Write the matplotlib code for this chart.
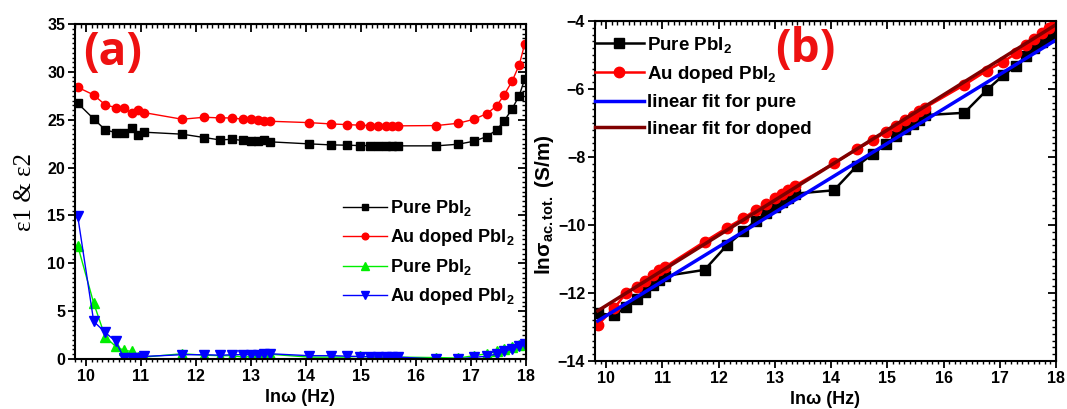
import matplotlib
matplotlib.use("Agg")
import matplotlib.pyplot as plt
from matplotlib.ticker import MultipleLocator
import numpy as np

plt.rcParams['font.family'] = ['Liberation Sans', 'DejaVu Sans']
plt.rcParams['font.weight'] = 'bold'
plt.rcParams['mathtext.fontset'] = 'custom'
plt.rcParams['mathtext.rm'] = 'Liberation Sans:bold'
plt.rcParams['mathtext.bf'] = 'Liberation Sans:bold'
plt.rcParams['mathtext.it'] = 'Liberation Sans:italic:bold'
plt.rcParams['mathtext.default'] = 'regular'

# ln(angular frequency), shared by both panels
ln_w = [9.85, 10.14, 10.35, 10.54, 10.69, 10.83, 10.94, 11.05, 11.75, 12.15,
        12.44, 12.66, 12.85, 13.00, 13.13, 13.24, 13.35, 14.05, 14.46, 14.75,
        14.98, 15.16, 15.31, 15.45, 15.57, 15.67, 16.37, 16.77, 17.06, 17.29,
        17.47, 17.61, 17.75, 17.88, 17.98]

# (a) dielectric constant / loss
eps1_pure = [26.72, 25.09, 23.94, 23.66, 23.59, 24.18, 23.42, 23.70, 23.49, 23.14,
             22.89, 22.96, 22.83, 22.79, 22.79, 22.89, 22.69, 22.48, 22.37, 22.34,
             22.30, 22.30, 22.27, 22.27, 22.27, 22.27, 22.27, 22.44, 22.76, 23.24,
             23.94, 24.91, 26.13, 27.52, 29.26]
eps1_doped = [28.39, 27.59, 26.55, 26.27, 26.27, 25.68, 26.03, 25.75, 25.05, 25.26,
              25.19, 25.19, 25.05, 25.05, 24.98, 24.91, 24.84, 24.70, 24.56, 24.49,
              24.43, 24.39, 24.39, 24.39, 24.39, 24.36, 24.39, 24.63, 25.05, 25.64,
              26.44, 27.63, 29.02, 30.72, 32.92]
eps2_pure = [11.83, 5.84, 2.30, 1.32, 0.90, 0.80, 0.25, 0.20, 0.55, 0.40,
             0.35, 0.35, 0.20, 0.25, 0.40, 0.55, 0.50, 0.20, 0.20, 0.20,
             0.30, 0.20, 0.20, 0.20, 0.20, 0.20, 0.15, 0.10, 0.35, 0.55,
             0.80, 1.05, 1.25, 1.45, 1.55]
eps2_doped = [14.90, 3.93, 2.78, 1.84, 0.10, 0.10, 0.15, 0.27, 0.45, 0.45,
              0.40, 0.45, 0.45, 0.45, 0.45, 0.50, 0.55, 0.35, 0.35, 0.30,
              0.25, 0.25, 0.20, 0.20, 0.20, 0.20, 0.00, 0.00, 0.17, 0.30,
              0.52, 0.80, 1.04, 1.32, 1.60]

# (b) ln of total ac conductivity
sigma_pure = [-12.60, -12.65, -12.42, -12.19, -11.96, -11.76, -11.62, -11.50, -11.32, -10.59,
              -10.19, -9.87, -9.64, -9.48, -9.33, -9.21, -9.08, -8.98, -8.26, -7.90,
              -7.62, -7.39, -7.19, -7.04, -6.91, -6.77, -6.70, -6.03, -5.60, -5.31,
              -5.04, -4.80, -4.61, -4.46, -4.31]
sigma_doped = [-12.94, -12.45, -12.01, -11.83, -11.64, -11.47, -11.33, -11.23, -10.49, -10.08,
               -9.80, -9.56, -9.38, -9.22, -9.08, -8.96, -8.85, -8.19, -7.77, -7.50,
               -7.26, -7.09, -6.92, -6.79, -6.66, -6.55, -5.88, -5.46, -5.20, -4.95,
               -4.72, -4.52, -4.35, -4.20, -4.06]

# linear fits (slope, intercept)
fit_pure = (1.014, -22.81)
fit_doped = (1.033, -22.70)


def style_axes(ax, xmaj, xmin, ymaj, ymin):
    for sp in ax.spines.values():
        sp.set_linewidth(1.5)
    ax.xaxis.set_major_locator(MultipleLocator(xmaj))
    ax.xaxis.set_minor_locator(MultipleLocator(xmin))
    ax.yaxis.set_major_locator(MultipleLocator(ymaj))
    ax.yaxis.set_minor_locator(MultipleLocator(ymin))
    ax.tick_params(which='major', direction='out', length=5, width=1.3,
                   labelsize=11.5, pad=2)
    ax.tick_params(which='minor', direction='out', length=2.5, width=1.0)
    for lab in ax.get_xticklabels() + ax.get_yticklabels():
        lab.set_fontweight('bold')

    #? mirrored ticks on top and right, pointing inwards
    top = ax.secondary_xaxis('top')
    top.xaxis.set_major_locator(MultipleLocator(xmaj))
    top.xaxis.set_minor_locator(MultipleLocator(xmin))
    top.tick_params(which='major', direction='in', length=6, width=1.3, labeltop=False)
    top.tick_params(which='minor', direction='in', length=3, width=1.0)
    right = ax.secondary_yaxis('right')
    right.yaxis.set_major_locator(MultipleLocator(ymaj))
    right.yaxis.set_minor_locator(MultipleLocator(ymin))
    right.tick_params(which='major', direction='in', length=6, width=1.3, labelright=False)
    right.tick_params(which='minor', direction='in', length=3, width=1.0)


fig = plt.figure(figsize=(10.67, 4.09), dpi=100)

#? Panel (a)
ax1 = fig.add_axes([0.0703, 0.1222, 0.4225, 0.8191])
ax1.plot(ln_w, eps1_pure, color='black', marker='s', ms=5.5, lw=1.0, label='Pure PbI$_2$')
ax1.plot(ln_w, eps1_doped, color='red', marker='o', ms=6, lw=1.0, label='Au doped PbI$_2$')
ax1.plot(ln_w, eps2_pure, color='#00ee00', marker='^', ms=6.5, lw=1.0, label='Pure PbI$_2$')
ax1.plot(ln_w, eps2_doped, color='blue', marker='v', ms=6.5, lw=1.0, label='Au doped PbI$_2$')
ax1.set_xlim(9.8, 18)
ax1.set_ylim(0, 35)
style_axes(ax1, 1, 0.1, 5, 0.5)
ax1.set_xlabel('lnω (Hz)', fontsize=13, fontweight='bold', labelpad=4)
ax1.set_ylabel('ε1 & ε2', fontsize=18, fontweight='normal',
               family=['Liberation Serif', 'DejaVu Serif'], labelpad=8)
ax1.legend(loc='upper left', bbox_to_anchor=(0.595, 0.48), frameon=False,
           fontsize=13, handlelength=2.4, handletextpad=0.2, labelspacing=0.5,
           borderpad=0, borderaxespad=0, markerscale=0.8)
ax1.text(0.018, 0.985, '(a)', transform=ax1.transAxes, color='#ee1111',
         fontsize=33, fontweight='bold', family=['Open Sans', 'DejaVu Sans'],
         ha='left', va='top')

#? Panel (b)
ax2 = fig.add_axes([0.5576, 0.1174, 0.4321, 0.8313])
ax2.plot(ln_w, sigma_pure, color='black', marker='s', ms=6.5, lw=1.8, label='Pure PbI$_2$')
ax2.plot(ln_w, sigma_doped, color='red', marker='o', ms=7.5, lw=1.8, label='Au doped PbI$_2$')
fit_x = np.array([ln_w[0], ln_w[-1]])
ax2.plot(fit_x, fit_pure[0] * fit_x + fit_pure[1], color='blue', lw=2.5,
         label='linear fit for pure')
ax2.plot(fit_x, fit_doped[0] * fit_x + fit_doped[1], color='#800000', lw=2.5,
         label='linear fit for doped')
ax2.set_xlim(9.8, 18)
ax2.set_ylim(-14, -4)
style_axes(ax2, 1, 0.1, 2, 0.2)
ax2.set_xlabel('lnω (Hz)', fontsize=13, fontweight='bold', labelpad=4)
ax2.set_ylabel(r'ln$\sigma_{ac.tot.}$ (S/m)', fontsize=15, fontweight='bold')
ax2.yaxis.set_label_coords(-0.084, 0.46)
ax2.legend(loc='upper left', bbox_to_anchor=(0.0, 0.96), frameon=False,
           fontsize=13.5, handlelength=2.6, handletextpad=0.2, labelspacing=0.5,
           borderpad=0, borderaxespad=0)
ax2.text(0.39, 0.985, '(b)', transform=ax2.transAxes, color='#ee1111',
         fontsize=33, fontweight='bold', family=['Open Sans', 'DejaVu Sans'],
         ha='left', va='top')

fig.savefig('out.png', dpi=100)
